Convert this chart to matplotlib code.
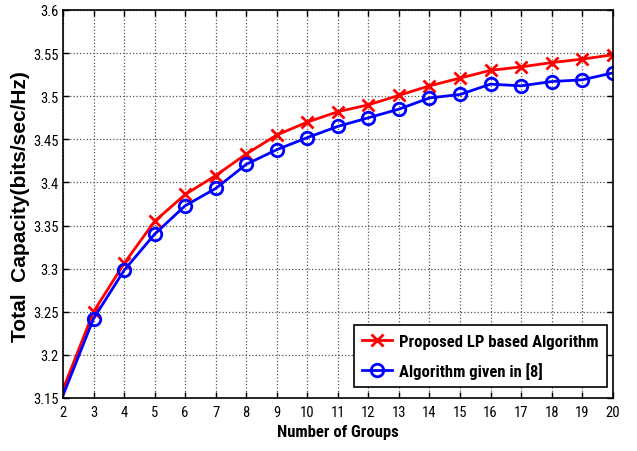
import matplotlib
matplotlib.use("Agg")
import matplotlib.pyplot as plt
from matplotlib import font_manager

groups = list(range(2, 21))
proposed = [3.160, 3.250, 3.306, 3.355, 3.386, 3.408, 3.433, 3.455, 3.470, 3.482,
            3.490, 3.501, 3.512, 3.521, 3.530, 3.534, 3.539, 3.543, 3.548]
given8 = [3.153, 3.242, 3.298, 3.340, 3.373, 3.393, 3.421, 3.438, 3.452, 3.465,
          3.475, 3.485, 3.498, 3.502, 3.514, 3.512, 3.517, 3.519, 3.527]
yticks = [3.15, 3.2, 3.25, 3.3, 3.35, 3.4, 3.45, 3.5, 3.55, 3.6]
ytick_labels = ["3.15", "3.2", "3.25", "3.3", "3.35", "3.4", "3.45", "3.5", "3.55", "3.6"]

names = {f.name for f in font_manager.fontManager.ttflist}
narrow = "Liberation Sans"
for cand in ["Liberation Sans Narrow", "DejaVu Sans Condensed", "Roboto Condensed",
             "Open Sans Condensed", "Noto Sans Condensed"]:
    if cand in names:
        narrow = cand
        break
is_narrow = narrow != "Liberation Sans"

fig = plt.figure(figsize=(6.37, 4.52), dpi=100)
ax = fig.add_axes([0.0989, 0.1173, 0.8630, 0.8584])

ax.plot(groups, proposed, color="red", lw=2, marker="x", ms=9, mew=2,
        markevery=slice(1, None), label="Proposed LP based Algorithm")
ax.plot(groups, given8, color="blue", lw=2, marker="o", ms=9, mew=2,
        mfc="none", markevery=slice(1, None), label="Algorithm given in [8]")

ax.set_xlim(2, 20)
ax.set_ylim(3.15, 3.6)
ax.set_xticks(groups)
ax.set_yticks(yticks)
ax.set_yticklabels(ytick_labels)
for lab in ax.get_xticklabels() + ax.get_yticklabels():
    lab.set_fontfamily(narrow)
    lab.set_fontsize(10.5 if is_narrow else 9.5)
ax.tick_params(axis="x", direction="in", top=True, length=4, width=1, pad=5)
ax.tick_params(axis="y", direction="in", right=True, length=4, width=1, pad=3)
ax.grid(True, linestyle=":", color="#555555", linewidth=0.9)
for s in ax.spines.values():
    s.set_linewidth(1.2)

ax.set_xlabel("Number of Groups", fontfamily=narrow, fontweight="bold",
              fontsize=12 if is_narrow else 11, labelpad=4)
ax.set_ylabel("Total  Capacity(bits/sec/Hz)", fontfamily="Liberation Sans",
              fontweight="bold", fontsize=15)
ax.yaxis.set_label_coords(-0.06, 0.495)

leg = ax.legend(loc="lower right", bbox_to_anchor=(0.989, 0.028), frameon=True,
                fancybox=False, edgecolor="black", framealpha=1,
                prop={"family": narrow, "weight": "bold", "size": 12 if is_narrow else 10.5},
                handlelength=1.8, borderpad=0.5, labelspacing=0.8, handletextpad=0.4,
                borderaxespad=0.0)
leg.get_frame().set_linewidth(1.2)

fig.savefig("out.png", dpi=100)
